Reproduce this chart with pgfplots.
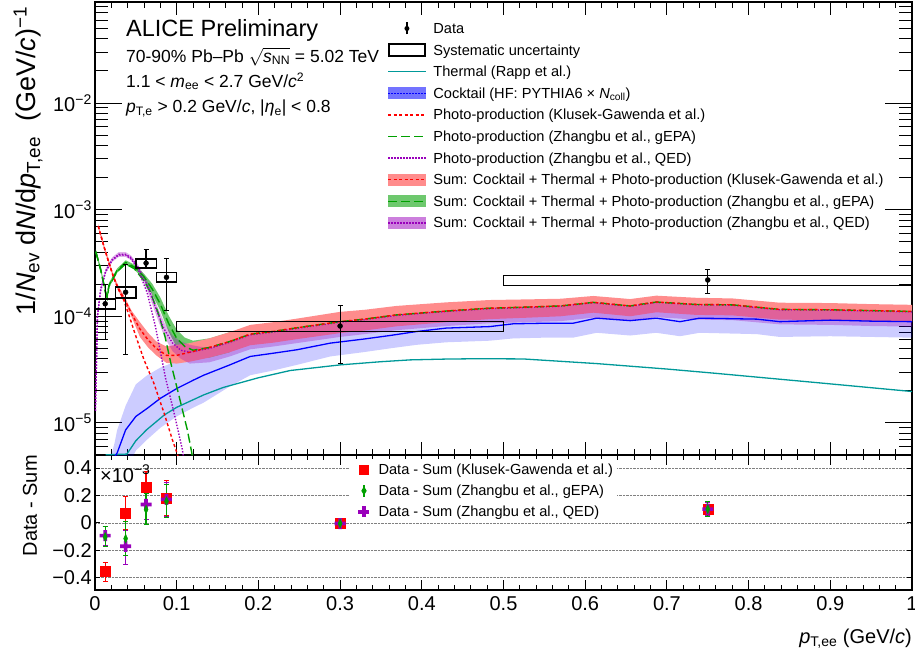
\documentclass[border=0pt]{standalone}
\usepackage{fontspec}
\setmainfont{Liberation Sans}
\usepackage{pgfplots}
\pgfplotsset{compat=1.18}
\usepackage{pgfplotstable}

\definecolor{rappteal}{RGB}{0,153,153}
\definecolor{ckblue}{RGB}{0,0,255}
\definecolor{kgred}{RGB}{255,0,0}
\definecolor{kgband}{RGB}{255,140,140}
\definecolor{epagreen}{RGB}{0,160,0}
\definecolor{epaband}{RGB}{110,200,110}
\definecolor{qedpurple}{RGB}{153,0,187}

\newcommand{\tickfont}{\fontsize{20}{24}\selectfont}
\newcommand{\titlefont}{\fontsize{27}{32}\selectfont}
\newcommand{\legfont}{\fontsize{14.6}{17}\selectfont}
\newcommand{\infofont}{\fontsize{17.5}{21}\selectfont}

\tikzset{
  thermalL/.style={draw=rappteal, line width=1.3pt},
  ckL/.style={draw=ckblue, line width=1.3pt},
  kgL/.style={draw=kgred, line width=1.4pt, dash pattern=on 3pt off 2.5pt},
  epaL/.style={draw=epagreen, line width=1.4pt, dash pattern=on 9pt off 4pt},
  qedL/.style={draw=qedpurple, line width=1.4pt, dash pattern=on 1.4pt off 1.6pt},
  legbox/.style={draw=none, fill=none},
}

% filled cross marker
\pgfdeclareplotmark{fcross}{%
  \pgfpathmoveto{\pgfpoint{-\pgfplotmarksize}{0.33\pgfplotmarksize}}%
  \pgfpathlineto{\pgfpoint{-0.33\pgfplotmarksize}{0.33\pgfplotmarksize}}%
  \pgfpathlineto{\pgfpoint{-0.33\pgfplotmarksize}{\pgfplotmarksize}}%
  \pgfpathlineto{\pgfpoint{0.33\pgfplotmarksize}{\pgfplotmarksize}}%
  \pgfpathlineto{\pgfpoint{0.33\pgfplotmarksize}{0.33\pgfplotmarksize}}%
  \pgfpathlineto{\pgfpoint{\pgfplotmarksize}{0.33\pgfplotmarksize}}%
  \pgfpathlineto{\pgfpoint{\pgfplotmarksize}{-0.33\pgfplotmarksize}}%
  \pgfpathlineto{\pgfpoint{0.33\pgfplotmarksize}{-0.33\pgfplotmarksize}}%
  \pgfpathlineto{\pgfpoint{0.33\pgfplotmarksize}{-\pgfplotmarksize}}%
  \pgfpathlineto{\pgfpoint{-0.33\pgfplotmarksize}{-\pgfplotmarksize}}%
  \pgfpathlineto{\pgfpoint{-0.33\pgfplotmarksize}{-0.33\pgfplotmarksize}}%
  \pgfpathlineto{\pgfpoint{-\pgfplotmarksize}{-0.33\pgfplotmarksize}}%
  \pgfpathclose\pgfusepathqfill}

% cocktail central curve
\pgfplotstableread{
x y
0.020 3.5e-6
0.024 4.8e-6
0.027 5.2e-6
0.0375 8.6e-6
0.050 1.15e-5
0.064 1.37e-5
0.080 1.70e-5
0.100 2.10e-5
0.121 2.53e-5
0.133 2.80e-5
0.165 3.50e-5
0.190 4.20e-5
0.218 4.50e-5
0.247 4.85e-5
0.288 5.60e-5
0.328 6.10e-5
0.361 6.60e-5
0.394 7.20e-5
0.430 7.75e-5
0.483 8.00e-5
0.512 8.50e-5
0.550 8.60e-5
0.585 8.60e-5
0.614 9.60e-5
0.655 9.10e-5
0.687 9.60e-5
0.716 8.90e-5
0.740 9.60e-5
0.810 9.40e-5
0.838 8.90e-5
0.900 9.20e-5
0.950 9.00e-5
1.000 8.90e-5
}\cocktail

% cocktail band outline: upper edge forward, lower edge back
\pgfplotstableread{
x y
0.020 5.0e-6
0.024 6.5e-6
0.027 8.5e-6
0.0375 1.45e-5
0.050 2.3e-5
0.064 2.8e-5
0.080 3.3e-5
0.100 3.8e-5
0.121 4.1e-5
0.133 4.36e-5
0.165 5.2e-5
0.190 6.0e-5
0.218 6.4e-5
0.247 6.9e-5
0.288 7.9e-5
0.328 8.4e-5
0.361 8.9e-5
0.394 9.4e-5
0.430 9.9e-5
0.483 1.02e-4
0.512 1.06e-4
0.550 1.07e-4
0.585 1.07e-4
0.614 1.17e-4
0.655 1.11e-4
0.687 1.16e-4
0.716 1.08e-4
0.740 1.15e-4
0.810 1.10e-4
0.838 1.04e-4
0.900 1.05e-4
0.950 1.03e-4
1.000 1.01e-4
1.000 6.3e-5
0.950 6.4e-5
0.900 6.5e-5
0.838 6.4e-5
0.810 6.8e-5
0.740 7.0e-5
0.716 6.5e-5
0.687 7.0e-5
0.655 6.6e-5
0.614 7.0e-5
0.585 6.3e-5
0.550 6.3e-5
0.512 6.2e-5
0.483 5.9e-5
0.430 5.7e-5
0.394 5.4e-5
0.361 5.0e-5
0.328 4.6e-5
0.288 4.2e-5
0.247 3.5e-5
0.218 3.1e-5
0.190 2.8e-5
0.165 2.2e-5
0.133 1.55e-5
0.121 1.40e-5
0.100 1.15e-5
0.080 9.0e-6
0.064 7.0e-6
0.050 5.5e-6
0.0375 3.5e-6
0.027 2.2e-6
0.024 2.0e-6
0.020 1.5e-6
}\cocktailband

\pgfplotstableread{
x y
0.013 5.02e-6
0.039 5.1e-6
0.050 6.8e-6
0.063 8.6e-6
0.085 1.19e-5
0.100 1.40e-5
0.133 1.83e-5
0.157 2.15e-5
0.200 2.65e-5
0.239 3.1e-5
0.300 3.5e-5
0.350 3.75e-5
0.386 3.9e-5
0.430 3.97e-5
0.471 4.0e-5
0.524 3.98e-5
0.614 3.6e-5
0.700 3.2e-5
0.757 2.93e-5
0.880 2.4e-5
1.000 1.97e-5
}\thermaltab

% photo-production curves
\pgfplotstableread{
x y
0.004 7.0e-4
0.011 4.5e-4
0.017 3.15e-4
0.023 2.28e-4
0.029 1.77e-4
0.0355 1.4e-4
0.042 1.0e-4
0.050 6.5e-5
0.060 3.9e-5
0.072 2.36e-5
0.0845 1.24e-5
0.0946 7.0e-6
0.100 5.3e-6
0.105 4.0e-6
}\photoKG

\pgfplotstableread{
x y
0.001 4.0e-4
0.007 2.7e-4
0.013 1.64e-4
0.015 1.48e-4
0.017 1.9e-4
0.027 2.63e-4
0.0375 3.1e-4
0.048 2.8e-4
0.060 2.15e-4
0.0675 1.7e-4
0.0775 1.07e-4
0.0857 6.45e-5
0.0926 3.7e-5
0.103 1.77e-5
0.113 8.6e-6
0.119 5.0e-6
0.122 4.0e-6
}\photoEPA

\pgfplotstableread{
x y
0.0005 1.3e-5
0.0015 3.0e-5
0.003 1.0e-4
0.007 1.75e-4
0.013 2.6e-4
0.021 3.35e-4
0.029 3.75e-4
0.0375 3.75e-4
0.044 3.45e-4
0.052 2.85e-4
0.064 1.65e-4
0.074 8.0e-5
0.0865 2.6e-5
0.0967 1.25e-5
0.107 5.6e-6
0.110 4.0e-6
}\photoQED

% sum central curves
\pgfplotstableread{
x y
0.004 7.0e-4
0.011 4.5e-4
0.017 3.2e-4
0.023 2.3e-4
0.029 1.8e-4
0.036 1.45e-4
0.045 1.05e-4
0.055 7.6e-5
0.065 6.0e-5
0.075 5.0e-5
0.0875 4.3e-5
0.100 4.3e-5
0.116 4.6e-5
0.140 5.1e-5
0.165 5.8e-5
0.190 6.8e-5
0.218 7.2e-5
0.247 7.8e-5
0.300 8.9e-5
0.330 9.4e-5
0.369 1.03e-4
0.430 1.12e-4
0.483 1.19e-4
0.530 1.22e-4
0.570 1.25e-4
0.610 1.35e-4
0.655 1.25e-4
0.687 1.36e-4
0.736 1.29e-4
0.780 1.28e-4
0.838 1.16e-4
0.900 1.15e-4
0.950 1.13e-4
1.000 1.11e-4
}\sumKG

\pgfplotstableread{
x y
0.001 4.05e-4
0.007 2.75e-4
0.013 1.68e-4
0.015 1.55e-4
0.017 1.95e-4
0.027 2.68e-4
0.0375 3.2e-4
0.048 2.9e-4
0.060 2.35e-4
0.070 1.8e-4
0.080 1.3e-4
0.090 8.6e-5
0.100 6.2e-5
0.110 5.2e-5
0.120 4.8e-5
0.140 5.1e-5
0.165 5.8e-5
0.190 6.8e-5
0.218 7.2e-5
0.247 7.8e-5
0.300 8.9e-5
0.330 9.4e-5
0.369 1.03e-4
0.430 1.12e-4
0.483 1.19e-4
0.530 1.22e-4
0.570 1.25e-4
0.610 1.35e-4
0.655 1.25e-4
0.687 1.36e-4
0.736 1.29e-4
0.780 1.28e-4
0.838 1.16e-4
0.900 1.15e-4
0.950 1.13e-4
1.000 1.11e-4
}\sumEPA

\pgfplotstableread{
x y
0.0005 1.3e-5
0.0015 3.0e-5
0.003 1.0e-4
0.007 1.8e-4
0.013 2.65e-4
0.021 3.4e-4
0.029 3.8e-4
0.0375 3.8e-4
0.044 3.55e-4
0.052 2.95e-4
0.064 1.95e-4
0.076 1.1e-4
0.085 7.5e-5
0.095 5.6e-5
0.105 4.8e-5
0.116 4.6e-5
0.140 5.0e-5
0.165 5.7e-5
0.190 6.7e-5
0.218 7.1e-5
0.247 7.7e-5
0.300 8.8e-5
0.330 9.3e-5
0.369 1.02e-4
0.430 1.11e-4
0.483 1.18e-4
0.530 1.21e-4
0.570 1.24e-4
0.610 1.34e-4
0.655 1.24e-4
0.687 1.35e-4
0.736 1.28e-4
0.780 1.27e-4
0.838 1.15e-4
0.900 1.14e-4
0.950 1.12e-4
1.000 1.10e-4
}\sumQED

% sum bands: upper edge forward, lower edge back
\pgfplotstableread{
x y
0.004 7.35e-4
0.011 4.7e-4
0.017 3.35e-4
0.023 2.4e-4
0.029 1.9e-4
0.036 1.53e-4
0.045 1.12e-4
0.055 8.8e-5
0.065 7.0e-5
0.075 5.8e-5
0.0875 5.2e-5
0.100 5.4e-5
0.116 5.6e-5
0.140 6.2e-5
0.165 7.1e-5
0.190 8.3e-5
0.218 8.8e-5
0.247 9.5e-5
0.300 1.10e-4
0.330 1.15e-4
0.369 1.25e-4
0.430 1.35e-4
0.483 1.42e-4
0.530 1.44e-4
0.570 1.46e-4
0.610 1.55e-4
0.655 1.45e-4
0.687 1.56e-4
0.736 1.49e-4
0.780 1.47e-4
0.838 1.34e-4
0.900 1.33e-4
0.950 1.30e-4
1.000 1.28e-4
1.000 8.9e-5
0.950 9.0e-5
0.900 9.2e-5
0.838 9.3e-5
0.780 1.02e-4
0.736 1.03e-4
0.687 1.09e-4
0.655 1.0e-4
0.610 1.08e-4
0.570 1.0e-4
0.530 9.7e-5
0.483 9.4e-5
0.430 8.8e-5
0.369 8.05e-5
0.330 7.35e-5
0.300 6.95e-5
0.247 6.1e-5
0.218 5.65e-5
0.190 5.35e-5
0.165 4.6e-5
0.140 4.1e-5
0.116 3.75e-5
0.100 3.6e-5
0.0875 3.65e-5
0.075 4.3e-5
0.065 5.1e-5
0.055 6.4e-5
0.045 9.8e-5
0.036 1.38e-4
0.029 1.7e-4
0.023 2.2e-4
0.017 3.05e-4
0.011 4.3e-4
0.004 6.65e-4
}\bandKG

\pgfplotstableread{
x y
0.001 4.25e-4
0.007 2.9e-4
0.013 1.76e-4
0.015 1.63e-4
0.017 2.05e-4
0.027 2.8e-4
0.0375 3.35e-4
0.048 3.05e-4
0.060 2.5e-4
0.070 2.02e-4
0.080 1.5e-4
0.090 1.02e-4
0.100 7.5e-5
0.110 6.3e-5
0.120 5.9e-5
0.140 6.2e-5
0.165 7.1e-5
0.165 4.6e-5
0.140 4.1e-5
0.120 3.95e-5
0.110 4.3e-5
0.100 5.1e-5
0.090 7.2e-5
0.080 1.13e-4
0.070 1.6e-4
0.060 2.2e-4
0.048 2.75e-4
0.0375 3.05e-4
0.027 2.55e-4
0.017 1.85e-4
0.015 1.47e-4
0.013 1.6e-4
0.007 2.6e-4
0.001 3.85e-4
}\bandEPA

\pgfplotstableread{
x y
0.0005 1.37e-5
0.0015 3.15e-5
0.003 1.05e-4
0.007 1.89e-4
0.013 2.78e-4
0.021 3.57e-4
0.029 4.0e-4
0.0375 4.0e-4
0.044 3.72e-4
0.052 3.1e-4
0.064 2.15e-4
0.076 1.25e-4
0.085 8.7e-5
0.095 6.6e-5
0.105 5.8e-5
0.116 5.4e-5
0.140 5.0e-5
0.165 5.7e-5
0.190 6.7e-5
0.218 7.0e-5
0.247 7.6e-5
0.300 8.7e-5
0.330 9.2e-5
0.369 1.01e-4
0.430 1.10e-4
0.483 1.17e-4
0.530 1.20e-4
0.570 1.22e-4
0.610 1.32e-4
0.655 1.22e-4
0.687 1.33e-4
0.736 1.26e-4
0.780 1.25e-4
0.838 1.14e-4
0.900 1.13e-4
0.950 1.11e-4
1.000 1.09e-4
1.000 8.0e-5
0.950 8.1e-5
0.900 8.3e-5
0.838 8.4e-5
0.780 9.2e-5
0.736 9.3e-5
0.687 9.8e-5
0.655 9.0e-5
0.610 9.7e-5
0.570 9.0e-5
0.530 8.8e-5
0.483 8.6e-5
0.430 8.1e-5
0.369 7.4e-5
0.330 6.8e-5
0.300 6.4e-5
0.247 5.6e-5
0.218 5.2e-5
0.190 4.9e-5
0.165 4.2e-5
0.140 3.7e-5
0.116 3.6e-5
0.105 4.0e-5
0.095 4.7e-5
0.085 6.4e-5
0.076 9.7e-5
0.064 1.75e-4
0.052 2.8e-4
0.044 3.37e-4
0.0375 3.6e-4
0.029 3.6e-4
0.021 3.23e-4
0.013 2.52e-4
0.007 1.71e-4
0.003 9.5e-5
0.0015 2.85e-5
0.0005 1.23e-5
}\bandQED

\begin{document}
\begin{tikzpicture}
\useasboundingbox (-95pt,-61pt) rectangle (820pt,590pt);

% ---------------- lower panel: Data - Sum
\begin{axis}[
  at={(0pt,0pt)}, anchor=south west, scale only axis,
  width=817pt, height=135pt,
  xmin=0, xmax=1, ymin=-0.49, ymax=0.495,
  xtick={0,0.1,0.2,0.3,0.4,0.5,0.6,0.7,0.8,0.9,1},
  xticklabels={0,0.1,0.2,0.3,0.4,0.5,0.6,0.7,0.8,0.9,1},
  minor x tick num=4,
  ytick={-0.4,-0.2,0,0.2,0.4},
  yticklabels={−0.4,−0.2,0,0.2,0.4},
  tick align=inside,
  axis line style={line width=1.3pt},
  xtick style={/pgfplots/major tick length=10pt, /pgfplots/minor tick length=5pt, line width=0.9pt, black},
  ytick style={/pgfplots/major tick length=5pt, line width=0.9pt, black},
  ymajorgrids, major grid style={densely dotted, gray, line width=0.6pt},
  xticklabel style={font=\tickfont, anchor=base, yshift=-20pt},
  yticklabel style={font=\tickfont, inner sep=0pt, xshift=-3pt},
  xlabel={\textit{p}\textsubscript{T,ee} (GeV/\textit{c})},
  xlabel style={font=\tickfont, at={(axis description cs:1,0)}, anchor=base east, yshift=-53pt, inner sep=0pt},
  ylabel={Data - Sum},
  ylabel style={font=\tickfont, at={(axis description cs:-0.0796,1.0)}, anchor=east, inner sep=0pt},
  legend style={at={(axis description cs:0.3121,0.9726)}, anchor=north west, draw=none, fill=white,
    inner xsep=4pt, inner ysep=4pt, outer sep=0pt, font=\legfont, row sep=7.1pt, column sep=4.6pt,
    nodes={inner sep=0pt, text height=10.5pt, text depth=0.5pt}},
  legend cell align=left,
]
\addplot[only marks, mark=square*, mark size=5pt, color=kgred, forget plot,
  error bars/.cd, y dir=both, y explicit,
  error bar style={line width=1.2pt, kgred},
  error mark options={rotate=90, mark size=2.5pt, line width=1pt, kgred}]
  coordinates {
  (0.0125,-0.355) += (0,0.066) -= (0,0.073)
  (0.0375,0.073) += (0,0.122) -= (0,0.12)
  (0.0625,0.261) += (0,0.112) -= (0,0.12)
  (0.0875,0.183) += (0,0.129) -= (0,0.13)
  (0.3,-0.005) += (0,0.03) -= (0,0.03)
  (0.75,0.1) += (0,0.05) -= (0,0.05)
  };
\addplot[only marks, mark=fcross, mark size=5.5pt, color=qedpurple, forget plot,
  error bars/.cd, y dir=both, y explicit,
  error bar style={line width=1.2pt, qedpurple},
  error mark options={rotate=90, mark size=2.5pt, line width=1pt, qedpurple}]
  coordinates {
  (0.0125,-0.093) += (0,0.068) -= (0,0.07)
  (0.0375,-0.171) += (0,0.117) -= (0,0.134)
  (0.0625,0.134) += (0,0.11) -= (0,0.11)
  (0.0875,0.171) += (0,0.126) -= (0,0.127)
  (0.3,-0.005) += (0,0.035) -= (0,0.035)
  (0.75,0.1) += (0,0.05) -= (0,0.05)
  };
\addplot[only marks, mark=diamond*, mark size=4.5pt, mark options={xscale=0.6}, color=epagreen, forget plot,
  error bars/.cd, y dir=both, y explicit,
  error bar style={line width=1.2pt, epagreen},
  error mark options={rotate=90, mark size=2.5pt, line width=1pt, epagreen}]
  coordinates {
  (0.0125,-0.103) += (0,0.074) -= (0,0.073)
  (0.0375,-0.115) += (0,0.127) -= (0,0.125)
  (0.0625,0.097) += (0,0.118) -= (0,0.109)
  (0.0875,0.158) += (0,0.123) -= (0,0.121)
  (0.3,-0.005) += (0,0.039) -= (0,0.039)
  (0.75,0.1) += (0,0.056) -= (0,0.056)
  };
\addlegendimage{legend image code/.code={
  \path[legbox] (0pt,-7pt) rectangle (20pt,7pt);
  \path[fill=kgred, draw=none] (5pt,-5pt) rectangle (15pt,5pt);}}
\addlegendentry{Data - Sum (Klusek-Gawenda et al.)}
\addlegendimage{legend image code/.code={
  \path[legbox] (0pt,-7pt) rectangle (20pt,7pt);
  \path[draw=epagreen, fill=none, line width=1.2pt] (10pt,-6pt) -- (10pt,6pt);
  \path[fill=epagreen, draw=none] (10pt,-4.5pt) -- (12.7pt,0pt) -- (10pt,4.5pt) -- (7.3pt,0pt) -- cycle;}}
\addlegendentry{Data - Sum (Zhangbu et al., gEPA)}
\addlegendimage{legend image code/.code={
  \path[legbox] (0pt,-7pt) rectangle (20pt,7pt);
  \path[fill=qedpurple, draw=none] (8.2pt,-5.5pt) rectangle (11.8pt,5.5pt);
  \path[fill=qedpurple, draw=none] (4.5pt,-1.8pt) rectangle (15.5pt,1.8pt);}}
\addlegendentry{Data - Sum (Zhangbu et al., QED)}
\node[anchor=west, font=\tickfont, inner sep=0pt] at (axis description cs:0.006,0.86) {×10\textsuperscript{−3}};
\end{axis}

% ---------------- upper panel: spectra
\begin{axis}[
  at={(0pt,135pt)}, anchor=south west, scale only axis,
  width=817pt, height=453pt,
  xmin=0, xmax=1, ymode=log, ymin=5.0e-6, ymax=0.0885,
  xtick={0,0.1,0.2,0.3,0.4,0.5,0.6,0.7,0.8,0.9,1},
  xticklabels={}, minor x tick num=4,
  ytick={1e-5,1e-4,1e-3,1e-2},
  yticklabels={10\textsuperscript{−5},10\textsuperscript{−4},10\textsuperscript{−3},10\textsuperscript{−2}},
  minor ytick={6e-6,7e-6,8e-6,9e-6,2e-5,3e-5,4e-5,5e-5,6e-5,7e-5,8e-5,9e-5,
    2e-4,3e-4,4e-4,5e-4,6e-4,7e-4,8e-4,9e-4,2e-3,3e-3,4e-3,5e-3,6e-3,7e-3,8e-3,9e-3,
    2e-2,3e-2,4e-2,5e-2,6e-2,7e-2,8e-2},
  tick align=inside,
  axis line style={line width=1.3pt},
  xtick style={/pgfplots/major tick length=13pt, /pgfplots/minor tick length=6.5pt, line width=0.9pt, black},
  ytick style={/pgfplots/major tick length=27pt, /pgfplots/minor tick length=13.5pt, line width=0.9pt, black},
  yticklabel style={font=\tickfont, inner sep=0pt, xshift=-3pt},
  ylabel={1/\textit{N}\textsubscript{ev} d\textit{N}/d\textit{p}\textsubscript{T,ee}\ \ (GeV/\textit{c})\textsuperscript{−1}},
  ylabel style={font=\titlefont, at={(axis description cs:-0.082,0.99)}, anchor=east, inner sep=0pt},
  legend style={at={(axis description cs:0.358,0.957)}, anchor=north west, draw=none, fill=none,
    inner sep=0pt, outer sep=0pt, font=\legfont, row sep=7.6pt, column sep=7pt,
    nodes={inner sep=0pt, text height=10.5pt, text depth=0.5pt}},
  legend cell align=left,
]
% bands
\addplot[fill=ckblue, fill opacity=0.2, draw=none, forget plot] table[x=x, y=y]{\cocktailband};
\addplot[fill=epaband, draw=none, forget plot] table[x=x, y=y]{\bandEPA};
\addplot[fill=kgband, draw=none, forget plot] table[x=x, y=y]{\bandKG};
\addplot[fill=qedpurple, fill opacity=0.3, draw=none, forget plot] table[x=x, y=y]{\bandQED};
% curves
\addplot[thermalL, forget plot] table[x=x, y=y]{\thermaltab};
\addplot[ckL, forget plot] table[x=x, y=y]{\cocktail};
\addplot[kgL, forget plot] table[x=x, y=y]{\photoKG};
\addplot[epaL, forget plot] table[x=x, y=y]{\photoEPA};
\addplot[qedL, forget plot] table[x=x, y=y]{\photoQED};
\addplot[qedL, forget plot] table[x=x, y=y]{\sumQED};
\addplot[epaL, forget plot] table[x=x, y=y]{\sumEPA};
\addplot[kgL, forget plot] table[x=x, y=y]{\sumKG};
% systematic boxes
\addplot[black, line width=1.4pt, line cap=rect, forget plot] coordinates {(0,1.17e-4) (0.025,1.17e-4) (0.025,1.45e-4) (0,1.45e-4) (0,1.17e-4)};
\addplot[black, line width=1.4pt, line cap=rect, forget plot] coordinates {(0.025,1.48e-4) (0.05,1.48e-4) (0.05,1.88e-4) (0.025,1.88e-4) (0.025,1.48e-4)};
\addplot[black, line width=1.4pt, line cap=rect, forget plot] coordinates {(0.05,2.84e-4) (0.075,2.84e-4) (0.075,3.45e-4) (0.05,3.45e-4) (0.05,2.84e-4)};
\addplot[black, line width=1.4pt, line cap=rect, forget plot] coordinates {(0.075,2.10e-4) (0.1,2.10e-4) (0.1,2.57e-4) (0.075,2.57e-4) (0.075,2.10e-4)};
\addplot[black, line width=1.4pt, line cap=rect, forget plot] coordinates {(0.1,7.2e-5) (0.5,7.2e-5) (0.5,8.9e-5) (0.1,8.9e-5) (0.1,7.2e-5)};
\addplot[black, line width=1.4pt, line cap=rect, forget plot] coordinates {(0.5,1.95e-4) (1.0,1.95e-4) (1.0,2.41e-4) (0.5,2.41e-4) (0.5,1.95e-4)};
% data
\addplot[only marks, mark=*, mark size=2.5pt, black, forget plot,
  error bars/.cd, y dir=both, y explicit,
  error bar style={line width=1.2pt, black},
  error mark options={rotate=90, mark size=2.5pt, line width=1pt, black}]
  coordinates {
  (0.0125,1.31e-4) += (0,6.6e-5) -= (0,7.1e-5)
  (0.0375,1.68e-4) += (0,1.35e-4) -= (0,1.24e-4)
  (0.0625,3.15e-4) += (0,1.11e-4) -= (0,3.0e-5)
  (0.0875,2.32e-4) += (0,1.18e-4) -= (0,1.19e-4)
  (0.3,8.1e-5) += (0,4.4e-5) -= (0,4.47e-5)
  (0.75,2.19e-4) += (0,5.3e-5) -= (0,5.5e-5)
  };
% legend
\addlegendimage{legend image code/.code={
  \path[legbox] (0pt,-7pt) rectangle (37.5pt,7pt);
  \path[draw=black, fill=none, line width=1.2pt] (18.75pt,-6pt) -- (18.75pt,6pt);
  \path[fill=black, draw=none] (18.75pt,0pt) circle (2.5pt);}}
\addlegendentry{Data}
\addlegendimage{legend image code/.code={
  \path[legbox] (0pt,-7pt) rectangle (37.5pt,7pt);
  \path[draw=black, fill=none, line width=1.4pt] (0.7pt,-6pt) rectangle (36.8pt,6pt);}}
\addlegendentry{Systematic uncertainty}
\addlegendimage{legend image code/.code={
  \path[legbox] (0pt,-7pt) rectangle (37.5pt,7pt);
  \path[fill=rappteal, draw=none] (0pt,-0.8pt) rectangle (37.5pt,0.8pt);}}
\addlegendentry{Thermal (Rapp et al.)}
\addlegendimage{legend image code/.code={
  \path[legbox] (0pt,-7pt) rectangle (37.5pt,7pt);
  \path[fill=ckblue, fill opacity=0.55, draw=none] (0pt,-6pt) rectangle (37.5pt,6pt);
  \path[qedL, draw=ckblue, fill=none] (0pt,0pt) -- (37.5pt,0pt);}}
\addlegendentry{Cocktail (HF: PYTHIA6 × \textit{N}\textsubscript{coll})}
\addlegendimage{legend image code/.code={
  \path[legbox] (0pt,-7pt) rectangle (37.5pt,7pt);
  \path[kgL, fill=none] (0pt,0pt) -- (37.5pt,0pt);}}
\addlegendentry{Photo-production (Klusek-Gawenda et al.)}
\addlegendimage{legend image code/.code={
  \path[legbox] (0pt,-7pt) rectangle (37.5pt,7pt);
  \path[epaL, fill=none] (0pt,0pt) -- (37.5pt,0pt);}}
\addlegendentry{Photo-production (Zhangbu et al., gEPA)}
\addlegendimage{legend image code/.code={
  \path[legbox] (0pt,-7pt) rectangle (37.5pt,7pt);
  \path[qedL, fill=none] (0pt,0pt) -- (37.5pt,0pt);}}
\addlegendentry{Photo-production (Zhangbu et al., QED)}
\addlegendimage{legend image code/.code={
  \path[legbox] (0pt,-7pt) rectangle (37.5pt,7pt);
  \path[fill=kgband, draw=none] (0pt,-6pt) rectangle (37.5pt,6pt);
  \path[kgL, fill=none] (0pt,0pt) -- (37.5pt,0pt);}}
\addlegendentry{Sum: Cocktail + Thermal + Photo-production (Klusek-Gawenda et al.)}
\addlegendimage{legend image code/.code={
  \path[legbox] (0pt,-7pt) rectangle (37.5pt,7pt);
  \path[fill=epaband, draw=none] (0pt,-6pt) rectangle (37.5pt,6pt);
  \path[epaL, fill=none] (0pt,0pt) -- (37.5pt,0pt);}}
\addlegendentry{Sum: Cocktail + Thermal + Photo-production (Zhangbu et al., gEPA)}
\addlegendimage{legend image code/.code={
  \path[legbox] (0pt,-7pt) rectangle (37.5pt,7pt);
  \path[fill=qedpurple, fill opacity=0.5, draw=none] (0pt,-6pt) rectangle (37.5pt,6pt);
  \path[qedL, fill=none] (0pt,0pt) -- (37.5pt,0pt);}}
\addlegendentry{Sum: Cocktail + Thermal + Photo-production (Zhangbu et al., QED)}
\end{axis}

% header text
\node[anchor=base west, inner sep=0pt, font=\fontsize{23.5}{28}\selectfont] at (31pt,553.3pt) {ALICE Preliminary};
\node[anchor=base west, inner sep=0pt, font=\infofont] at (31pt,527.7pt) {70-90\% Pb–Pb \(\sqrt{\mbox{\textit{s}}\smash{\mbox{\textsubscript{NN}}}}\) = 5.02 TeV};
\node[anchor=base west, inner sep=0pt, font=\infofont] at (31pt,502.7pt) {1.1 < \textit{m}\textsubscript{ee} < 2.7 GeV/\textit{c}\textsuperscript{2}};
\node[anchor=base west, inner sep=0pt, font=\infofont] at (31pt,477.3pt) {\textit{p}\textsubscript{T,e} > 0.2 GeV/\textit{c}, |\textit{η}\textsubscript{e}| < 0.8};
\end{tikzpicture}
\end{document}
